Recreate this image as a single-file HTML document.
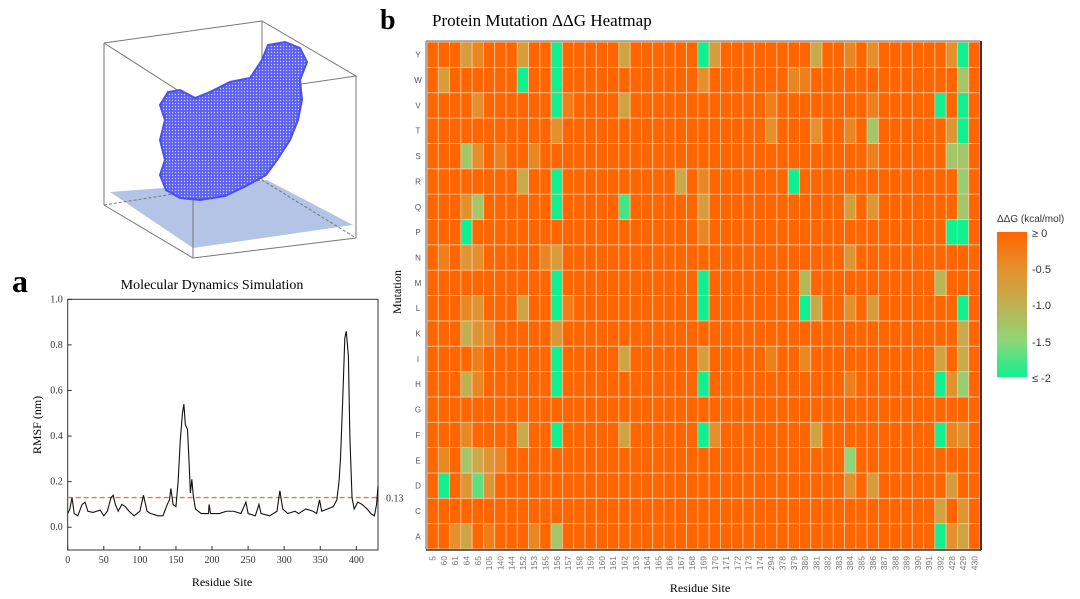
<!DOCTYPE html>
<html><head><meta charset="utf-8"><style>
body{margin:0;background:#fff;width:1080px;height:599px;overflow:hidden;font-family:"Liberation Serif",serif}
svg{position:absolute;left:0;top:0}
</style></head><body>
<svg width="1080" height="599">
<defs>
<pattern id="mesh" width="3" height="3" patternUnits="userSpaceOnUse"><rect width="3" height="3" fill="#5a5ff0"/><circle cx="1.5" cy="1.5" r="0.7" fill="#c9cbfa"/></pattern>
<linearGradient id="cbar" x1="0" y1="0" x2="0" y2="1">
<stop offset="0" stop-color="#ff6600"/><stop offset="0.25" stop-color="#e4902c"/><stop offset="0.5" stop-color="#c0b050"/><stop offset="0.75" stop-color="#8fd678"/><stop offset="1" stop-color="#10f090"/></linearGradient>
</defs>
<g>
<polygon points="110,192 267,180 353,225 193,248" fill="#b4c4e6"/>
<g stroke="#777" stroke-width="1" fill="none">
<polyline points="104,43 262,21 356,76 193,100 104,43"/>
<polyline points="104,205 193,258 356,238"/>
<line x1="104" y1="43" x2="104" y2="205"/><line x1="193" y1="100" x2="193" y2="258"/><line x1="356" y1="76" x2="356" y2="238"/><line x1="262" y1="21" x2="262" y2="180"/>
<polyline points="104,205 262,180 356,238" stroke-dasharray="3,2"/>
</g>
<path d="M180,90 L195,98 L210,92 L230,82 L250,78 L262,60 L268,45 L285,42 L300,48 L307,62 L300,80 L302,100 L298,120 L290,140 L277,160 L266,175 L246,186 L225,196 L200,200 L180,198 L166,190 L160,175 L165,160 L160,140 L165,120 L160,105 L168,92 Z" fill="url(#mesh)" stroke="#4a50ee" stroke-width="2"/>
</g>
<text x="12" y="292" font-size="32" font-weight="bold">a</text>
<text x="212" y="289" font-size="14" text-anchor="middle">Molecular Dynamics Simulation</text>
<g id="rmsf"></g>
<text x="380" y="29" font-size="28" font-weight="bold">b</text>
<text x="432" y="26" font-size="17">Protein Mutation ΔΔG Heatmap</text>
<g id="heat"></g>
<text x="700" y="592" font-size="12" text-anchor="middle">Residue Site</text>
<text transform="translate(401,292) rotate(-90)" font-size="12" text-anchor="middle">Mutation</text>
<g font-family="Liberation Sans, sans-serif" fill="#333">
<text x="997" y="222" font-size="10">ΔΔG (kcal/mol)</text>
<rect x="997" y="232" width="30" height="145" fill="url(#cbar)"/>
<text x="1032" y="237" font-size="11">≥ 0</text>
<text x="1032" y="273" font-size="11">-0.5</text>
<text x="1032" y="309" font-size="11">-1.0</text>
<text x="1032" y="346" font-size="11">-1.5</text>
<text x="1032" y="382" font-size="11">≤ -2</text>
</g>
</svg>
<script>
const NS="http://www.w3.org/2000/svg";
function mk(p,t,a){const e=document.createElementNS(NS,t);for(const k in a)e.setAttribute(k,a[k]);p.appendChild(e);return e;}
// ---- RMSF data ----
const residues=[0,3,6,9,14,20,24,28,35,45,50,55,60,63,66,70,75,80,85,92,100,105,110,115,125,132,138,141,143,146,150,153,156,159,161,163,166,168,170,172,174,177,185,195,196,198,210,220,230,240,247,250,260,265,268,280,290,294,298,305,315,320,330,340,345,349,352,360,368,373,376,378,381,384,386,389,391,394,397,402,408,415,420,425,428,430];
const rmsf=[0.06,0.08,0.13,0.06,0.05,0.1,0.11,0.07,0.065,0.075,0.05,0.07,0.13,0.14,0.1,0.07,0.1,0.09,0.07,0.05,0.07,0.14,0.07,0.06,0.05,0.05,0.1,0.12,0.17,0.1,0.09,0.2,0.38,0.5,0.54,0.45,0.43,0.3,0.15,0.21,0.14,0.08,0.06,0.06,0.1,0.06,0.06,0.07,0.07,0.06,0.11,0.06,0.05,0.1,0.06,0.05,0.07,0.16,0.08,0.06,0.07,0.06,0.08,0.07,0.06,0.12,0.07,0.08,0.09,0.12,0.2,0.3,0.55,0.83,0.86,0.75,0.4,0.13,0.08,0.11,0.1,0.08,0.06,0.05,0.1,0.18];
const xTicks=[0,50,100,150,200,250,300,350,400];
const yTicks=[0.0,0.2,0.4,0.6,0.8,1.0];
const threshold=0.13;
const X0=67.7,X1=378,Y0=550,Y1=299.3,xMin=0,xMax=430,yMin=-0.1,yMax=1.0;
const sx=v=>X0+(v-xMin)/(xMax-xMin)*(X1-X0);
const sy=v=>Y0-(v-yMin)/(yMax-yMin)*(Y0-Y1);
const g=document.getElementById('rmsf');
let fr=mk(g,'rect',{x:X0,y:Y1,width:X1-X0,height:Y0-Y1,fill:'none',stroke:'#333','stroke-width':1});


xTicks.forEach(t=>{mk(g,'line',{x1:sx(t),x2:sx(t),y1:Y0,y2:Y0-4,stroke:'#333'});
 const tx=mk(g,'text',{x:sx(t),y:Y0+13,'font-size':10,'text-anchor':'middle',fill:'#333'});tx.textContent=t;
 
 });
yTicks.forEach(t=>{mk(g,'line',{x1:X0,x2:X0+4,y1:sy(t),y2:sy(t),stroke:'#333'});
 const tx=mk(g,'text',{x:X0-5,y:sy(t)+3,'font-size':10,'text-anchor':'end',fill:'#333'});tx.textContent=t.toFixed(1);
 
 });
const th=mk(g,'line',{x1:X0,x2:X1,y1:sy(threshold),y2:sy(threshold),stroke:'#e87070','stroke-dasharray':'5,3','stroke-width':1.4});


const tl=mk(g,'text',{x:386,y:sy(threshold)+4,'font-size':10,fill:'#333'});tl.textContent=threshold.toFixed(2);


const ln=mk(g,'polyline',{points:residues.map((r,i)=>sx(r)+','+sy(rmsf[i])).join(' '),fill:'none',stroke:'#111','stroke-width':1.1});


const xt=mk(g,'text',{x:222,y:586,'font-size':12,'text-anchor':'middle'});xt.textContent='Residue Site';


const yt=mk(g,'text',{transform:'translate(41,425) rotate(-90)','font-size':12,'text-anchor':'middle'});yt.textContent='RMSF (nm)';


// ---- Heatmap data ----
const sites=["5","60","61","64","65","105","140","144","152","153","155","156","157","158","159","160","161","162","163","164","165","166","167","168","169","170","171","172","173","174","294","378","379","380","381","382","383","384","385","386","387","388","389","390","391","392","428","429","430"];
const mutations=["A","C","D","E","F","G","H","I","K","L","M","N","P","Q","R","S","T","V","W","Y"];
// nonzero cells: [site, mutation, ddG]; all others 0
const cellSites=["64","65","152","156","162","169","170","381","384","386","428","429",
"60","152","156","169","379","380","429",
"65","156","157","162","392","429","294","386",
"156","294","381","384","386","428","429",
"64","65","140","153","386","428","429",
"152","156","167","169","379","429",
"64","65","156","162","169","384","386","429",
"64","169","428","429",
"60","64","65","155","156","384",
"156","169","380","392",
"64","65","152","156","157","169","380","381","384","386","429",
"64","65","105","156","429",
"65","156","162","169","294","380","392","429",
"64","65","156","169","384","392","428","429",
"64","152","156","162","169","170","381","392","428","429",
"60","64","65","105","140","384",
"60","64","65","105","384","386","428",
"392","429",
"61","64","105","153","156","392","428","429"];
const cellMuts=["Y","Y","Y","Y","Y","Y","Y","Y","Y","Y","Y","Y",
"W","W","W","W","W","W","W",
"V","V","V","V","V","V","V","V",
"T","T","T","T","T","T","T",
"S","S","S","S","S","S","S",
"R","R","R","R","R","R",
"Q","Q","Q","Q","Q","Q","Q","Q",
"P","P","P","P",
"N","N","N","N","N","N",
"M","M","M","M",
"L","L","L","L","L","L","L","L","L","L","L",
"K","K","K","K","K",
"I","I","I","I","I","I","I","I",
"H","H","H","H","H","H","H","H",
"F","F","F","F","F","F","F","F","F","F",
"E","E","E","E","E","E",
"D","D","D","D","D","D","D",
"C","C",
"A","A","A","A","A","A","A","A"];
const cellValues=[-0.7,-0.4,-0.7,-2,-0.8,-2,-0.7,-0.9,-0.4,-0.5,-0.5,-2,
-0.7,-2,-2,-0.5,-0.4,-0.3,-1.3,
-0.5,-2,-0.3,-0.8,-2,-2,-0.3,-0.3,
-0.5,-0.5,-0.5,-0.4,-1.3,-0.6,-2,
-1.3,-0.5,-0.3,-0.4,-0.3,-1.3,-1.3,
-0.9,-2,-0.9,-0.4,-2,-1.4,
-0.5,-1.3,-2,-1.8,-0.7,-0.7,-0.6,-1.3,
-2,-0.4,-2,-2,
-0.3,-0.6,-0.5,-0.4,-0.7,-0.6,
-2,-2,-1.1,-1.1,
-0.4,-0.6,-0.8,-2,-0.3,-2,-2,-0.9,-0.5,-0.7,-2,
-1.0,-0.6,-0.4,-0.6,-0.9,
-0.3,-2,-0.8,-0.7,-0.3,-0.4,-0.8,-0.9,
-1.0,-0.4,-2,-2,-0.3,-2,-0.5,-1.4,
-0.4,-0.9,-2,-0.8,-2,-0.5,-0.8,-2,-0.4,-0.5,
-0.4,-1.3,-0.9,-0.6,-0.4,-1.5,
-2,-0.6,-1.7,-0.6,-0.5,-0.7,-0.7,
-0.8,-0.6,
-0.5,-0.8,-0.3,-0.4,-1.3,-2,-0.5,-0.8];
const HX0=427,HX1=980,HY0=42,HY1=549;
const cw=(HX1-HX0)/sites.length,ch=(HY1-HY0)/mutations.length;
const cx=s=>HX0+sites.indexOf(s)*cw;
const cy=m=>HY1-(mutations.indexOf(m)+1)*ch;
const stops=[[0,[255,102,0]],[-0.5,[228,144,44]],[-1,[192,176,80]],[-1.5,[143,214,120]],[-2,[16,240,144]]];
function col(v){v=Math.max(-2,Math.min(0,v));for(let i=0;i<4;i++){const a=stops[i],b=stops[i+1];if(v<=a[0]&&v>=b[0]){const t=(a[0]-v)/0.5;return 'rgb('+a[1].map((c,k)=>Math.round(c+(b[1][k]-c)*t)).join(',')+')';}}return 'rgb(255,102,0)';}
const H=document.getElementById('heat');
const grid={};
cellSites.forEach((s,i)=>{grid[s+'|'+cellMuts[i]]=cellValues[i];});
mutations.forEach(m=>{sites.forEach(s=>{const v=grid[s+'|'+m]||0;
 const r=mk(H,'rect',{x:cx(s),y:cy(m),width:cw,height:ch,fill:col(v),stroke:'#f6c9a6','stroke-width':0.8});
 
 });
 const t=mk(H,'text',{x:418,y:cy(m)+ch/2+3,'font-size':8,'text-anchor':'middle',fill:'#555','font-family':'Liberation Sans, sans-serif'});t.textContent=m;
 
 });
sites.forEach(s=>{const x=cx(s)+cw/2+3;
 const t=mk(H,'text',{transform:'translate('+x+',556) rotate(-90)','font-size':8.5,'text-anchor':'end',fill:'#777','font-family':'Liberation Sans, sans-serif'});t.textContent=s;
 
 });
mk(H,'line',{x1:HX0-1,x2:HX1,y1:HY0-1,y2:HY0-1,stroke:'#999','stroke-width':1.5});
mk(H,'line',{x1:HX0-1,x2:HX0-1,y1:HY0-1,y2:HY1,stroke:'#999','stroke-width':1.5});
mk(H,'line',{x1:HX1+1,x2:HX1+1,y1:HY0-1,y2:HY1+1,stroke:'#5a2a10','stroke-width':2});
mk(H,'line',{x1:HX0-1,x2:HX1+1,y1:HY1+1,y2:HY1+1,stroke:'#333','stroke-width':1.5});
</script>
</body></html>
